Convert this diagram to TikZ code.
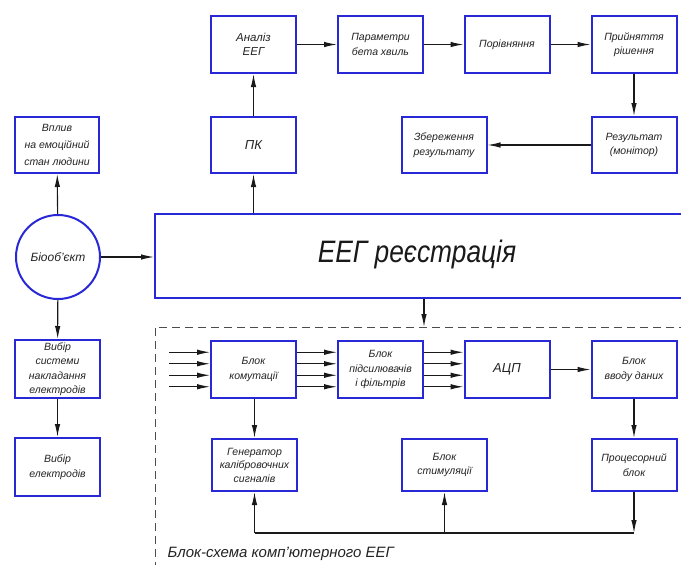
\documentclass[tikz,border=0pt]{standalone}
\usepackage{fontspec}
\setmainfont{Liberation Sans}
\newfontfamily\bigf[FakeStretch=0.85]{Liberation Sans}
\usetikzlibrary{arrows.meta,calc}
\definecolor{blueln}{RGB}{40,40,215}
\definecolor{lineclr}{RGB}{25,25,25}
\definecolor{txt}{RGB}{35,35,35}
\tikzset{
  blk/.style={draw=blueln, line width=2pt, fill=white, minimum width=85pt, minimum height=57pt,
    inner sep=1pt, align=center, text=txt, font=\itshape\fontsize{10.5}{14.5}\selectfont},
  arr/.style={draw=lineclr, line width=1.1pt, -{Latex[length=13pt,width=5.5pt]}},
  ln/.style={draw=lineclr, line width=1.1pt},
  dsh/.style={draw=black!70, line width=1pt, dash pattern=on 8pt off 5pt},
}
\begin{document}
\begin{tikzpicture}[x=1pt,y=-1pt]
\useasboundingbox (0,0) rectangle (681,565);
% top row
\node[blk] (an) at (253.5,44.5) {\fontsize{11.5}{14}\selectfont Аналіз\\\fontsize{11.5}{14}\selectfont ЕЕГ};
\node[blk] (par) at (380.5,44.5) {Параметри\\бета хвиль};
\node[blk] (por) at (507,44.5) {Порівняння};
\node[blk] (pr) at (634,44.5) {Прийняття\\рішення};
% second row
\node[blk, minimum height=56pt] (pk) at (253.5,145) {\fontsize{13}{14}\selectfont ПК};
\node[blk, minimum height=56pt, minimum width=84pt, font=\itshape\fontsize{10.5}{17}\selectfont] (vp) at (57,145) {Вплив\\на емоційний\\стан людини};
\node[blk, minimum height=56pt] (zb) at (444,145) {Збереження\\результату};
\node[blk, minimum height=56pt] (rz) at (634,145) {Результат\\(монітор)};
% bio object and EEG registration
\node[draw=blueln, line width=2pt, circle, minimum size=84pt, inner sep=0pt, text=txt,
  font=\itshape\fontsize{12}{14}\selectfont] (bio) at (58,257) {Біооб’єкт};
\node[draw=blueln, line width=2pt, minimum width=560pt, minimum height=84pt, inner sep=0pt] (eeg) at (435,256) {};
\node[anchor=base, text=lineclr, font=\bigf\itshape\fontsize{31}{34}\selectfont] (eegt) at (417,262) {ЕЕГ реєстрація};
% left column
\node[blk, minimum height=58pt, font=\itshape\fontsize{10.5}{14.5}\selectfont] (vs) at (57.5,369) {Вибір\\системи\\накладання\\електродів};
\node[blk, minimum height=58pt] (ve) at (57.5,467) {Вибір\\електродів};
% dashed frame
\coordinate (dtop) at (424,327);
\draw[dsh] (700,327) -- (155,327) -- (155,580);
% inner row
\node[blk] (kom) at (253.5,369.5) {Блок\\комутації};
\node[blk] (pid) at (380.5,369.5) {Блок\\підсилювачів\\і фільтрів};
\node[blk] (adc) at (507,369.5) {\fontsize{13}{14}\selectfont АЦП};
\node[blk] (vv) at (634,369.5) {Блок\\вводу даних};
% lower inner row
\node[blk, minimum height=52pt, font=\itshape\fontsize{10.5}{13.5}\selectfont] (gen) at (254.5,465) {Генератор\\калібровочних\\сигналів};
\node[blk, minimum height=52pt] (st) at (444.5,465) {Блок\\стимуляції};
\node[blk, minimum height=52pt] (pc) at (634,465) {Процесорний\\блок};
\coordinate (bl) at (254.5,533);
\coordinate (bm) at (444.5,533);
\coordinate (br) at (634,533);
\node[anchor=base west, text=txt, font=\itshape\fontsize{15}{16}\selectfont] (cap) at (164,557) {Блок-схема комп’ютерного ЕЕГ};
% connectors top
\draw[arr] (an) -- (par);
\draw[arr] (par) -- (por);
\draw[arr] (por) -- (pr);
\draw[arr] (pr) -- (rz);
\draw[arr] (rz) -- (zb);
\draw[arr] (pk) -- (an);
\draw[arr] (eeg.north -| pk) -- (pk);
\draw[arr] (bio) -- (vp);
\draw[arr] (bio) -- (eeg.west |- bio);
\draw[arr] (bio) -- (vs);
\draw[arr] (vs) -- (ve);
\draw[arr] (eeg.south -| dtop) -- (dtop);
% inner connectors
\foreach \dy in {-17.25,-5.75,5.75,17.25}{
  \draw[arr] ([xshift=-41pt,yshift=\dy pt]kom.west) -- ([yshift=\dy pt]kom.west);
  \draw[arr] ([yshift=\dy pt]kom.east) -- ([yshift=\dy pt]pid.west);
  \draw[arr] ([yshift=\dy pt]pid.east) -- ([yshift=\dy pt]adc.west);
}
\draw[arr] (adc) -- (vv);
\draw[arr] (vv) -- (pc);
\draw[arr] (kom.south -| gen) -- (gen);
\draw[ln] (bl) -- (br);
\draw[arr] (bl) -- (gen);
\draw[arr] (bm) -- (st);
\draw[arr] (pc) -- (br);
\end{tikzpicture}
\end{document}
